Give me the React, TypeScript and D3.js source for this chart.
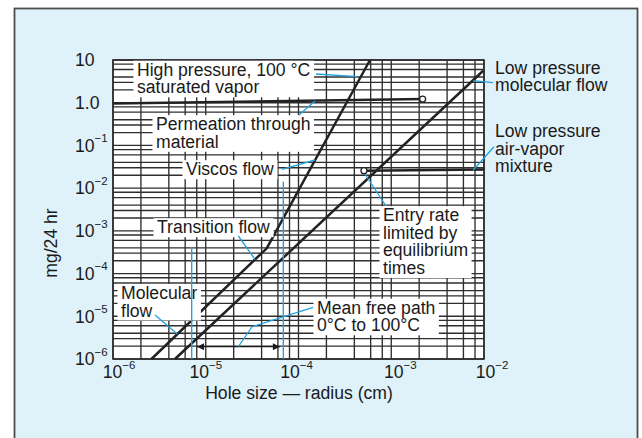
import React, { useEffect, useRef } from 'react';
import * as d3 from 'd3';

const W = 642;
const H = 438;

// ---- Axis ticks ----
const xTickValues = [1e-6, 1e-5, 1e-4, 1e-3, 1e-2];
const xTickSup = ['−6', '−5', '−4', '−3', '−2'];
const yTickValues = [10, 1, 1e-1, 1e-2, 1e-3, 1e-4, 1e-5, 1e-6];
const yTickBase = ['10', '1.0', '10', '10', '10', '10', '10', '10'];
const yTickSup = ['', '', '−1', '−2', '−3', '−4', '−5', '−6'];
const xGridMultiples = [1, 2, 4, 6, 8];
const yGridMultiples = [1, 2, 3, 4, 6, 8];
const xDecades = [-6, -5, -4, -3];
const yDecades = [-6, -5, -4, -3, -2, -1, 0];

// ---- Curves (x = hole radius cm, y = mg/24 hr) ----
const flowCurveX = [2.6e-6, 4.54e-5, 5.9e-4];
const flowCurveY = [1e-6, 3.9e-4, 10];
const lowPressureX = [4.66e-6, 9.8e-3];
const lowPressureY = [1e-6, 5.6];
const permeationX = [1e-6, 2.18e-3];
const permeationY = [0.96, 1.22];
const airVaporX = [5.08e-4, 1e-2];
const airVaporY = [0.0257, 0.0273];
const meanFreePathX = [7.05e-6, 6.86e-5];
const meanFreePathTop = [4.2e-4, 1.42e-2];
const arrowX = [8.05e-6, 6.3e-5];
const arrowY = 1.94e-6;

// ---- Layout (label nudges, annotation placement) ----
const xTickDx = [6, 0, -2, 9, 8];
const labels = [
  { x: 137, y: 69.5, lines: ['High pressure, 100 °C', 'saturated vapor'], box: true },
  { x: 156, y: 124, lines: ['Permeation through', 'material'], box: true },
  { x: 186, y: 169, lines: ['Viscos flow'], box: true },
  { x: 157, y: 227, lines: ['Transition flow'], box: true },
  { x: 121, y: 292.7, lines: ['Molecular', 'flow'], box: true },
  { x: 317, y: 307.5, lines: ['Mean free path', '0°C to 100°C'], box: true },
  { x: 383, y: 215, lines: ['Entry rate', 'limited by', 'equilibrium', 'times'], box: true },
  { x: 495, y: 67.3, lines: ['Low pressure', 'molecular flow'], box: false },
  { x: 495, y: 131, lines: ['Low pressure', 'air-vapor', 'mixture'], box: false },
];
const leaders: number[][][] = [
  [[316, 74], [358, 76.7]],
  [[299, 115], [315, 101]],
  [[282, 169.3], [315, 160]],
  [[238.3, 236], [255, 259.3]],
  [[155, 315], [177.3, 334]],
  [[313, 307.3], [252, 326.7], [238.5, 346.5]],
  [[386, 206], [365, 174]],
  [[473.3, 80.7], [493, 82.7]],
  [[494, 146.7], [473.3, 170]],
];

const FONT = "'Liberation Sans', Arial, Helvetica, sans-serif";
const FS = 17.6;
const LH = 17.6;
const BLUE = '#22a3e0';
const GRID = '#2e2e2e';
const INK = '#1a1a1a';

export default function App() {
  const ref = useRef<SVGSVGElement>(null);

  useEffect(() => {
    const svg = d3.select(ref.current);
    svg.selectAll('*').remove();

    const left = 113, right = 484, top = 60, bottom = 359;
    const x = d3.scaleLog().domain([1e-6, 1e-2]).range([left, right]);
    const y = d3.scaleLog().domain([1e-6, 10]).range([bottom, top]);

    const defs = svg.append('defs');
    defs.append('marker')
      .attr('id', 'arrowHead')
      .attr('viewBox', '0 0 10 10')
      .attr('refX', 10).attr('refY', 5)
      .attr('markerUnits', 'userSpaceOnUse')
      .attr('markerWidth', 9).attr('markerHeight', 7)
      .attr('orient', 'auto-start-reverse')
      .append('path').attr('d', 'M0,0 L10,5 L0,10 z').attr('fill', INK);

    svg.append('rect').attr('x', 0).attr('y', 0).attr('width', W).attr('height', H).attr('fill', '#ffffff');
    svg.append('rect').attr('x', 14.5).attr('y', 8.5).attr('width', 623).attr('height', 445)
      .attr('fill', '#dff1f9').attr('stroke', '#4d4d4d').attr('stroke-width', 1.8);

    svg.append('rect').attr('x', left).attr('y', top).attr('width', right - left).attr('height', bottom - top)
      .attr('fill', '#ffffff');

    // grid
    const gx: number[] = [];
    xDecades.forEach(d => xGridMultiples.forEach(m => gx.push(m * Math.pow(10, d))));
    gx.push(1e-2);
    const gy: number[] = [];
    yDecades.forEach(d => yGridMultiples.forEach(m => gy.push(m * Math.pow(10, d))));
    gy.push(10);
    const grid = svg.append('g').attr('stroke', GRID).attr('stroke-width', 1.35);
    gx.forEach(v => grid.append('line').attr('x1', x(v)).attr('x2', x(v)).attr('y1', top).attr('y2', bottom));
    gy.forEach(v => grid.append('line').attr('y1', y(v)).attr('y2', y(v)).attr('x1', left).attr('x2', right));
    svg.append('rect').attr('x', left).attr('y', top).attr('width', right - left).attr('height', bottom - top)
      .attr('fill', 'none').attr('stroke', GRID).attr('stroke-width', 1.6);

    // curves
    const line = d3.line<[number, number]>().x(d => x(d[0])).y(d => y(d[1]));
    const curve = (xs: number[], ys: number[]) =>
      svg.append('path').attr('d', line(xs.map((v, i) => [v, ys[i]] as [number, number])))
        .attr('fill', 'none').attr('stroke', '#222').attr('stroke-width', 2.5).attr('stroke-linejoin', 'round');
    curve(flowCurveX, flowCurveY);
    curve(lowPressureX, lowPressureY);
    curve(permeationX, permeationY);
    curve(airVaporX, airVaporY);

    // labels with white boxes
    labels.forEach(lb => {
      const g = svg.append('g');
      const t = g.append('text').attr('font-family', FONT).attr('font-size', FS).attr('fill', INK);
      lb.lines.forEach((s, i) => {
        t.append('tspan').attr('x', lb.x).attr('y', lb.y + 6.2 + i * LH).text(s);
      });
      if (lb.box) {
        const bb = (t.node() as SVGTextElement).getBBox();
        g.insert('rect', 'text')
          .attr('x', bb.x - 3.5).attr('y', bb.y + 1)
          .attr('width', bb.width + 7).attr('height', bb.height - 1)
          .attr('fill', '#ffffff');
      }
    });

    // mean free path verticals
    meanFreePathX.forEach((v, i) => {
      svg.append('line').attr('x1', x(v)).attr('x2', x(v)).attr('y1', y(meanFreePathTop[i])).attr('y2', bottom)
        .attr('stroke', BLUE).attr('stroke-width', 1.4);
    });
    svg.append('line').attr('x1', x(arrowX[0])).attr('x2', x(arrowX[1])).attr('y1', y(arrowY)).attr('y2', y(arrowY))
      .attr('stroke', INK).attr('stroke-width', 1.2)
      .attr('marker-start', 'url(#arrowHead)').attr('marker-end', 'url(#arrowHead)');

    // leaders
    const pl = d3.line<number[]>().x(d => d[0]).y(d => d[1]);
    leaders.forEach(pts => {
      svg.append('path').attr('d', pl(pts)).attr('fill', 'none').attr('stroke', BLUE).attr('stroke-width', 1.3);
    });

    // end circles
    svg.append('circle').attr('cx', x(permeationX[1])).attr('cy', y(permeationY[1])).attr('r', 3)
      .attr('fill', '#fff').attr('stroke', '#222').attr('stroke-width', 1.3);
    svg.append('circle').attr('cx', x(airVaporX[0])).attr('cy', y(airVaporY[0])).attr('r', 3)
      .attr('fill', '#fff').attr('stroke', '#222').attr('stroke-width', 1.3);

    // x tick labels
    xTickValues.forEach((v, i) => {
      const t = svg.append('text').attr('x', x(v) + xTickDx[i]).attr('y', 378.3).attr('text-anchor', 'middle')
        .attr('font-family', FONT).attr('font-size', FS).attr('fill', INK);
      t.append('tspan').text('10');
      t.append('tspan').attr('dy', -9.5).attr('font-size', 11.5).text(xTickSup[i]);
    });
    // y tick labels
    yTickValues.forEach((v, i) => {
      const t = svg.append('text').attr('x', 75).attr('y', y(v) + 6.3)
        .attr('font-family', FONT).attr('font-size', FS).attr('fill', INK);
      t.append('tspan').text(yTickBase[i]);
      if (yTickSup[i]) t.append('tspan').attr('dy', -9.5).attr('font-size', 11.5).text(yTickSup[i]);
    });

    // axis titles
    svg.append('text').attr('x', 299).attr('y', 399).attr('text-anchor', 'middle')
      .attr('font-family', FONT).attr('font-size', FS).attr('fill', INK).text('Hole size — radius (cm)');
    svg.append('text').attr('transform', 'translate(57,243) rotate(-90)').attr('text-anchor', 'middle')
      .attr('font-family', FONT).attr('font-size', FS).attr('fill', INK).text('mg/24 hr');
  }, []);

  return (
    <svg ref={ref} width={W} height={H} style={{ position: 'absolute', left: 0, top: 0, display: 'block' }} />
  );
}
